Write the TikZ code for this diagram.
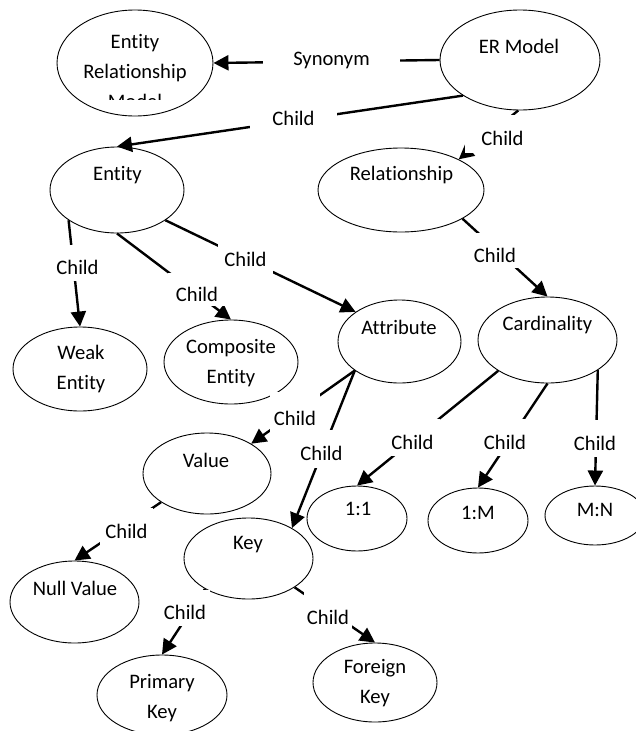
\documentclass[tikz,border=0pt]{standalone}
\usepackage{fontspec}
\setmainfont{Carlito}[Ligatures=NoCommon]
\usetikzlibrary{shapes.geometric,arrows.meta,positioning}

\begin{document}
\begin{tikzpicture}[x=1pt,y=-1pt,
        font=\fontsize{20.6}{30}\selectfont,
        oval/.style 2 args={draw,ellipse,line width=0.9pt,inner sep=0pt,
            minimum width=#1pt,minimum height=#2pt},
        conn/.style={line width=2.4pt,-{Triangle[length=15pt,width=15pt]}},
        lbl/.style 2 args={fill=white,inner sep=0pt,
            minimum width=#1pt,minimum height=#2pt},
        low/.style={text height=23pt,text depth=0pt},
        txt/.style={inner sep=0pt,align=center}]

        \useasboundingbox (0,0) rectangle (635,731);

        % the ovals, sized as in the drawing
        \begin{scope}
            \node[oval={156}{106}] (erm) at (135,63) {};
            \node[oval={160}{100}] (er) at (520,60) {};
            \node[oval={134}{86}] (entity) at (117,190) {};
            \node[oval={166}{84}] (rel) at (401,190) {};
            \node[oval={134}{84}] (weak) at (80,369) {};
            \node[oval={134}{84}] (comp) at (231,362) {};
            \node[oval={123}{83}] (attr) at (399.5,341.5) {};
            \node[oval={139}{86}] (card) at (547.5,340) {};
            \node[oval={128}{81}] (value) at (207,473.5) {};
            \node[oval={129}{81}] (key) at (248.5,558.5) {};
            \node[oval={129}{82}] (null) at (74.5,602) {};
            \node[oval={100}{65}] (one1) at (357,518.5) {};
            \node[oval={100}{65}] (oneM) at (478,520.5) {};
            \node[oval={100}{59}] (mn) at (595,515.5) {};
            \node[oval={130}{80}] (pk) at (162,695) {};
            \node[oval={124}{79}] (fk) at (375,682.5) {};
        \end{scope}

        % connectors
        \begin{scope}
            \draw[conn] (er.west) -- (erm.east);
            \draw[conn] (er.212) -- (entity.north);
            \draw[conn] (er.268) -- (rel.28);
            \draw[conn] (rel.335) -- (card.north);
            \draw[conn] (entity.212) -- (weak.north);
            \draw[conn] (entity.south) -- (comp.north);
            \draw[conn] (entity.328) -- (attr.146);
            \draw[conn] (attr.213) -- (value.34);
            \draw[conn] (attr.213) -- (key.35);
            \draw[conn] (value.212) -- (null.north);
            \draw[conn] (key.215) -- (pk.north);
            \draw[conn] (key.328) -- (fk.north);
            \draw[conn] (card.212) -- (one1.north);
            \draw[conn] (card.south) -- (oneM.north);
            \draw[conn] (card.329) -- (mn.north);
        \end{scope}

        % white label boxes over the connectors
        \node[lbl={137}{30}] (syn) at (331.5,60) {Synonym};
        \node[lbl={87}{28}] (c1) at (293.5,118) {Child};
        \node[lbl={75}{38},low] (c2) at (502.5,134) {Child};
        \node[lbl={60}{35},low] (c3) at (495,250.5) {Child};
        \node[lbl={48}{36},low] (c4) at (77.5,263) {Child};
        \node[lbl={58}{33},low] (c5) at (197,289.5) {Child};
        \node[lbl={55}{38}] (c6) at (245.5,259) {Child};
        \node[lbl={50}{44},low] (c7) at (295,414) {Child};
        \node[lbl={47}{38},low] (c8) at (321.5,449) {Child};
        \node[lbl={53}{37},low] (c9) at (126.5,526.5) {Child};
        \node[lbl={50}{36},low] (c10) at (185,608) {Child};
        \node[lbl={48}{42},low] (c11) at (328,613) {Child};
        \node[lbl={55}{37},low] (c12) at (412.5,437.5) {Child};
        \node[lbl={46}{37},low] (c13) at (505,437.5) {Child};
        \node[lbl={46}{37},low] (c14) at (595,438.5) {Child};

        % texts of the ovals
        \begin{scope}
            \clip (57,20) rectangle (213,99);
            \node[txt] (ermT) at (135,71) {Entity\\Relationship\\Model};
        \end{scope}
        \node[txt] (erT) at (519,46) {ER Model};
        \node[txt] (entityT) at (117.5,175) {Entity};
        \node[txt] (relT) at (401.5,175) {Relationship};
        \node[txt] (weakT) at (81,369) {Weak\\Entity};
        \node[txt] (compT) at (231,363.5) {Composite\\Entity};
        \node[txt] (attrT) at (399,327) {Attribute};
        \node[txt] (cardT) at (547.5,325) {Cardinality};
        \node[txt] (valueT) at (206,460) {Value};
        \node[txt] (keyT) at (248,545) {Key};
        \node[txt] (nullT) at (75,588) {Null Value};
        \node[txt] (one1T) at (358,509) {1:1};
        \node[txt] (oneMT) at (478,513) {1:M};
        \node[txt] (mnT) at (595,510) {M:N};
        \node[txt] (pkT) at (162,698) {Primary\\Key};
        \node[txt] (fkT) at (375,683.5) {Foreign\\Key};

\end{tikzpicture}
\end{document}
